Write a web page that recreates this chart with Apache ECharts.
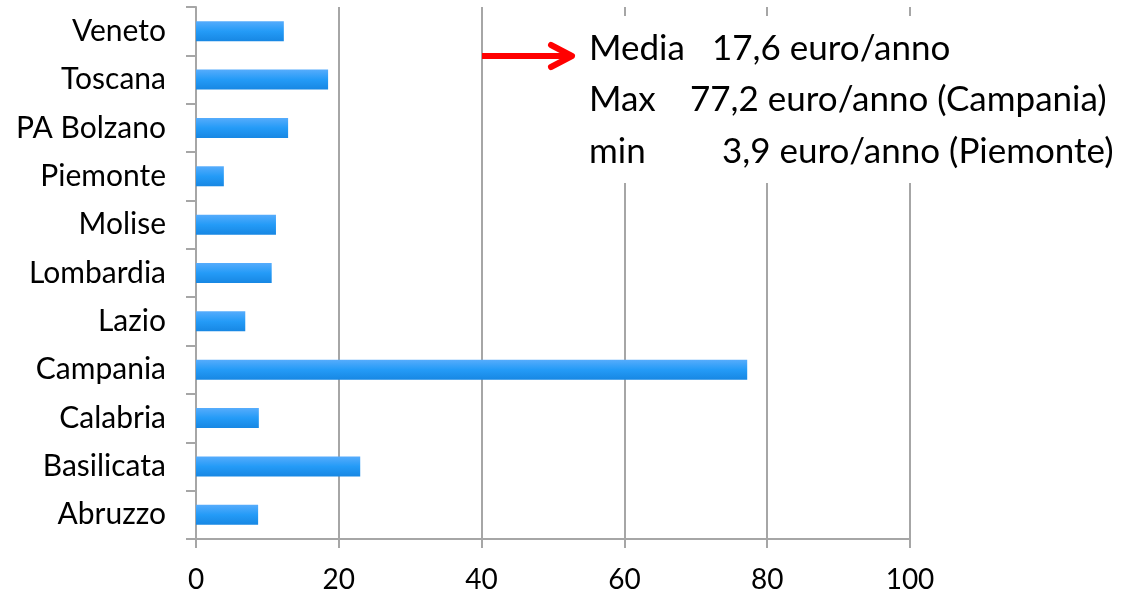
<!DOCTYPE html>
<html>
<head>
<meta charset="utf-8">
<script src="https://cdn.jsdelivr.net/npm/echarts@6/dist/echarts.min.js"></script>
<style>
html,body{margin:0;padding:0;background:#fff;}
#c{width:1147px;height:595px;}
</style>
</head>
<body>
<div id="c"></div>
<script>
const categories = ['Abruzzo','Basilicata','Calabria','Campania','Lazio','Lombardia','Molise','Piemonte','PA Bolzano','Toscana','Veneto'];
const values = [8.7, 23.0, 8.8, 77.2, 6.9, 10.6, 11.2, 3.9, 12.9, 18.5, 12.3];
const xTicks = [0, 20, 40, 60, 80, 100];
const noteLabels = ['Media', 'Max', 'min'];
const noteValues = ['17,6 euro/anno', '77,2 euro/anno (Campania)', '3,9 euro/anno (Piemonte)'];

const FONT = 'Lato';
const chart = echarts.init(document.getElementById('c'), null, {renderer: 'canvas'});

const noteX = [712, 690, 722];
const noteY = [49, 100, 152];
const graphics = [
  {type: 'rect', shape: {x: 577, y: 16, width: 560, height: 167}, style: {fill: '#ffffff'}, z: 10},
  {type: 'line', shape: {x1: 482, y1: 56, x2: 570, y2: 56}, style: {stroke: '#ff0000', lineWidth: 6}, z: 11},
  {type: 'polyline', shape: {points: [[551, 45], [572, 56], [551, 67]]}, style: {stroke: '#ff0000', lineWidth: 6, lineCap: 'round', lineJoin: 'round', fill: null}, z: 11}
];
noteLabels.forEach((t, i) => {
  graphics.push({type: 'text', x: 589, y: noteY[i], style: {text: t, font: '35px ' + FONT, fill: '#000', verticalAlign: 'middle', textAlign: 'left'}, z: 12});
  graphics.push({type: 'text', x: noteX[i], y: noteY[i], style: {text: noteValues[i], font: '35px ' + FONT, fill: '#000', verticalAlign: 'middle', textAlign: 'left'}, z: 12});
});

chart.setOption({
  animation: false,
  backgroundColor: '#ffffff',
  grid: {left: 196, right: 237, top: 7, bottom: 56, containLabel: false},
  xAxis: {
    type: 'value', min: xTicks[0], max: xTicks[xTicks.length - 1], interval: 20,
    axisLine: {show: true, lineStyle: {color: '#a6a6a6', width: 2}},
    axisTick: {show: true, length: 9, lineStyle: {color: '#a6a6a6', width: 2}},
    splitLine: {show: true, lineStyle: {color: '#a6a6a6', width: 2}},
    axisLabel: {color: '#000', fontFamily: FONT, fontSize: 28, margin: 27}
  },
  yAxis: {
    type: 'category', data: categories,
    axisLine: {show: true, lineStyle: {color: '#a6a6a6', width: 2}},
    axisTick: {show: true, length: 10, alignWithLabel: false, lineStyle: {color: '#a6a6a6', width: 2}},
    splitLine: {show: false},
    axisLabel: {color: '#000', fontFamily: FONT, fontSize: 30, margin: 30, interval: 0}
  },
  series: [{
    type: 'bar', data: values, barWidth: 20,
    itemStyle: {
      color: new echarts.graphic.LinearGradient(0, 0, 0, 1, [
        {offset: 0, color: '#56acfc'},
        {offset: 0.5, color: '#249bf7'},
        {offset: 1, color: '#1787e3'}
      ])
    }
  }],
  graphic: graphics
});
</script>
</body>
</html>
